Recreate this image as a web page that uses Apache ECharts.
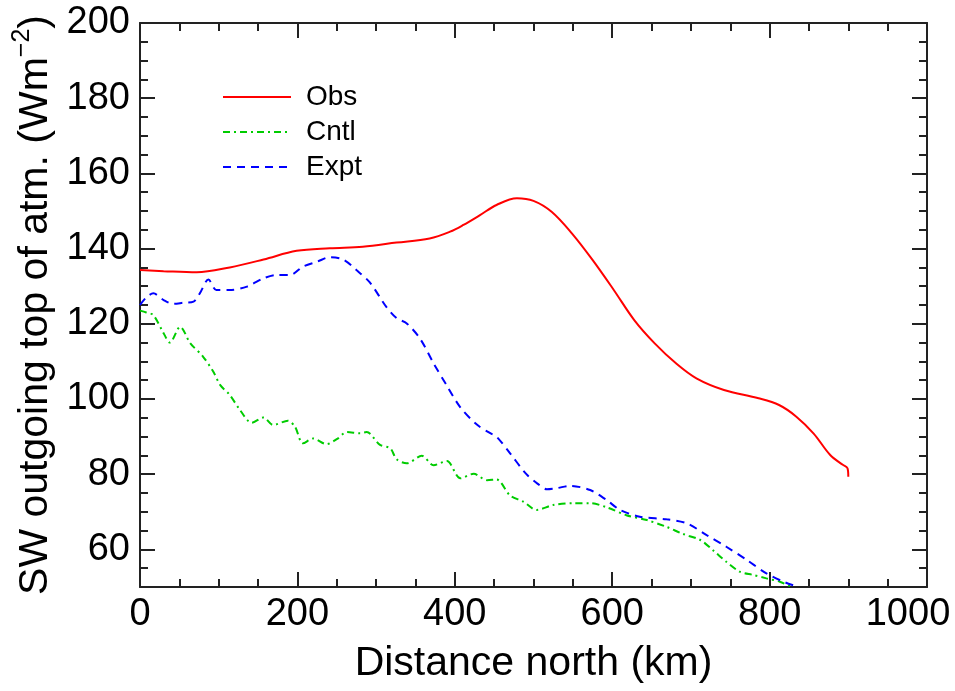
<!DOCTYPE html>
<html>
<head>
<meta charset="utf-8">
<script src="https://cdn.jsdelivr.net/npm/echarts@6/dist/echarts.min.js"></script>
<style>
html,body{margin:0;padding:0;background:#fff;}
#chart{width:955px;height:691px;}
</style>
</head>
<body>
<div id="chart"></div>
<script>
// ---- data (distance north km, W m^-2) ----
var seriesNames = ['Obs', 'Cntl', 'Expt'];
var xTicks = [0, 200, 400, 600, 800, 1000];
var yTicks = [60, 80, 100, 120, 140, 160, 180, 200];

var obsData = [[0,134.3],[30,134.0],[72,133.7],[114,135.0],[157,137.1],[199,139.4],[241,140.1],[283,140.5],[326,141.6],[368,142.7],[394,144.5],[411,146.3],[432,148.9],[453,151.6],[479,153.4],[500,152.7],[523,149.8],[549,144.0],[575,137.0],[602,129.0],[628,121.0],[654,114.8],[681,109.5],[707,105.5],[742,102.4],[786,100.2],[812,98.4],[834,95.3],[856,90.8],[877,85.1],[893,82.5],[899,81.6],[900,79.3]];

var cntlData = [[0,123.5],[8,123.0],[17,122.3],[30,117.5],[38,115.0],[51,119.2],[64,114.8],[80,111.3],[93,107.3],[102,103.7],[114,101.1],[127,97.1],[142,93.7],[157,95.1],[169,93.1],[188,94.2],[197,92.6],[207,88.2],[220,89.5],[237,88.0],[250,89.3],[263,91.2],[280,90.9],[288,91.2],[305,87.8],[318,86.9],[326,84.0],[339,82.9],[358,84.9],[373,82.4],[390,83.5],[407,78.9],[424,80.1],[441,78.4],[453,78.6],[470,74.4],[487,72.7],[504,70.5],[525,71.8],[551,72.3],[572,72.3],[593,71.2],[618,69.1],[644,67.8],[669,66.0],[690,64.1],[712,62.5],[728,59.8],[745,56.7],[762,54.1],[779,53.2],[796,52.3],[813,51.4],[826,50.2]];

var exptData = [[0,125.0],[8,127.0],[17,128.1],[30,126.3],[42,125.3],[55,125.6],[68,125.9],[76,128.1],[87,131.8],[97,129.0],[114,129.0],[136,129.9],[157,132.1],[174,133.0],[191,133.0],[207,135.2],[225,136.5],[241,137.7],[258,137.1],[275,134.3],[292,131.0],[313,124.5],[326,121.5],[339,120.1],[356,116.0],[373,109.5],[390,103.5],[407,97.8],[428,93.2],[445,90.9],[453,90.0],[470,85.6],[491,80.0],[505,77.5],[517,76.0],[530,76.3],[546,76.9],[572,75.8],[593,73.1],[610,70.5],[635,68.7],[669,68.0],[695,66.9],[720,63.8],[745,60.7],[771,57.2],[796,53.6],[820,51.2],[832,50.3]];

var FONT = '"Liberation Sans", Arial, Helvetica, sans-serif';
var AX = '#222';

function xAxisDef(pos, showLabel, showName) {
  return {
    type: 'value', position: pos, min: 0, max: 1000, interval: 200,
    axisLine: {show: true, onZero: false, lineStyle: {color: AX, width: 2}},
    axisTick: {show: true, inside: true, length: 15, lineStyle: {color: AX, width: 2}},
    minorTick: {show: true, splitNumber: 4, length: 8, lineStyle: {color: AX, width: 2}},
    splitLine: {show: false}, minorSplitLine: {show: false},
    axisLabel: {show: showLabel, color: '#000', fontFamily: FONT, fontSize: 38, margin: 9,
      formatter: function (v) { return v === xTicks[xTicks.length - 1] ? '{m|' + v + '}' : String(v); },
      rich: {m: {fontFamily: FONT, fontSize: 38, color: '#000', padding: [0, 38, 0, 0]}}},
    name: showName ? 'Distance north (km)' : '',
    nameLocation: 'middle', nameGap: 56,
    nameTextStyle: {color: '#000', fontFamily: FONT, fontSize: 41, verticalAlign: 'top'}
  };
}

function yAxisMinor(pos, showLabel, showName) {
  return {
    type: 'value', position: pos, min: 50, max: 200, interval: 5,
    axisLine: {show: true, onZero: false, lineStyle: {color: AX, width: 2}},
    axisTick: {show: true, inside: true, length: 8, lineStyle: {color: AX, width: 2}},
    splitLine: {show: false},
    axisLabel: {show: showLabel, color: '#000', fontFamily: FONT, fontSize: 38, margin: 10,
      formatter: function (v) { return yTicks.indexOf(v) >= 0 ? String(v) : ''; }},
    name: showName ? '{a|SW outgoing top of atm. (Wm}{s|\u22122}{a|)}' : '',
    nameLocation: 'middle', nameGap: 83, nameRotate: 90,
    nameTextStyle: {color: '#000', fontFamily: FONT, fontSize: 41,
      rich: {
        a: {fontFamily: FONT, fontSize: 41, color: '#000', lineHeight: 46, verticalAlign: 'bottom'},
        s: {fontFamily: FONT, fontSize: 25, color: '#000', lineHeight: 46, verticalAlign: 'top', padding: [0, 0, 12, 0]}
      }}
  };
}

function yAxisMajor(pos) {
  return {
    type: 'value', position: pos, min: 50, max: 200,
    axisLine: {show: false, onZero: false},
    axisTick: {show: true, inside: true, length: 15, customValues: yTicks, lineStyle: {color: AX, width: 2}},
    splitLine: {show: false},
    axisLabel: {show: false}
  };
}

var chart = echarts.init(document.getElementById('chart'), null, {renderer: 'canvas'});
chart.setOption({
  backgroundColor: '#fff',
  animation: false,
  grid: {left: 140, right: 28, top: 23, bottom: 104, containLabel: false, outerBoundsMode: 'none'},
  legend: {
    show: true, orient: 'vertical', left: 222, top: 83, padding: 0,
    itemWidth: 68, itemHeight: 28, itemGap: 7,
    data: seriesNames,
    itemStyle: {opacity: 0},
    textStyle: {fontFamily: FONT, fontSize: 28, color: '#000', padding: [0, 0, 0, 10]}
  },
  xAxis: [xAxisDef('bottom', true, true), xAxisDef('top', false, false)],
  yAxis: [yAxisMinor('left', true, true), yAxisMinor('right', false, false), yAxisMajor('left'), yAxisMajor('right')],
  series: [
    {name: 'Obs', type: 'line', data: obsData, xAxisIndex: 0, yAxisIndex: 0, symbol: 'none', smooth: 0.35,
      lineStyle: {color: '#ff0000', width: 2, type: 'solid'}, itemStyle: {color: '#ff0000'}},
    {name: 'Cntl', type: 'line', data: cntlData, xAxisIndex: 0, yAxisIndex: 0, symbol: 'none', smooth: 0.3,
      lineStyle: {color: '#00cc00', width: 2, type: [7, 4, 2, 4]}, itemStyle: {color: '#00cc00'}},
    {name: 'Expt', type: 'line', data: exptData, xAxisIndex: 0, yAxisIndex: 0, symbol: 'none', smooth: 0.3,
      lineStyle: {color: '#0000ff', width: 2, type: [8, 6]}, itemStyle: {color: '#0000ff'}}
  ]
});
</script>
</body>
</html>
